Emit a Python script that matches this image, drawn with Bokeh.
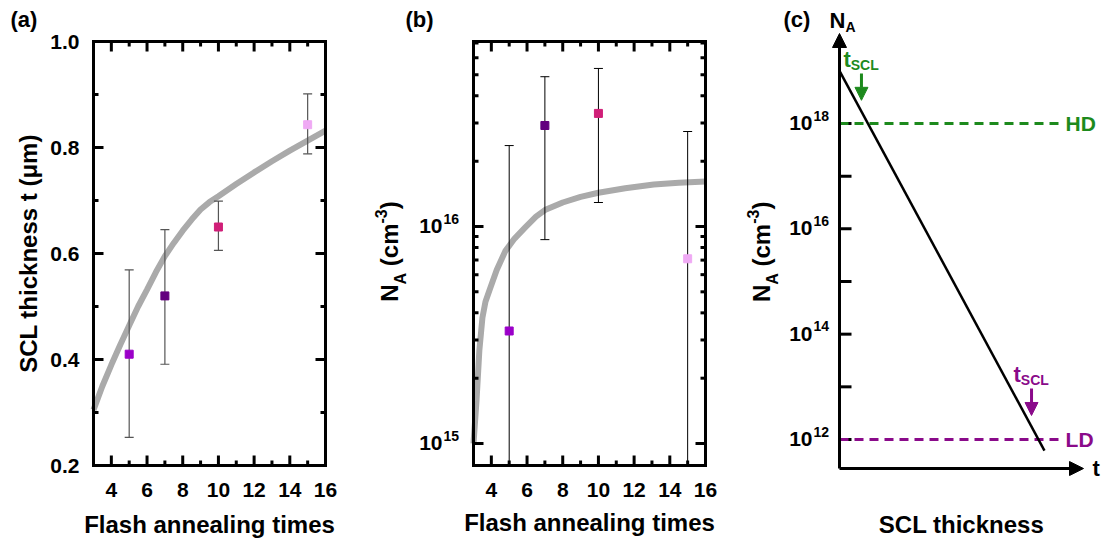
import math
from bokeh.plotting import figure
from bokeh.layouts import row
from bokeh.models import Range1d, Label, Arrow, NormalHead, ColumnDataSource
from bokeh.embed import file_html
from bokeh.resources import INLINE

FONT = "Liberation Sans"

# ---------------- data ----------------
ann_times = [5, 7, 10, 15]
point_colors = ["#9b00c9", "#63007f", "#d01f78", "#efa9f4"]
x_major_ticks = [4, 6, 8, 10, 12, 14, 16]
x_minor_ticks = [3, 5, 7, 9, 11, 13, 15]

# panel (a): SCL thickness (um)
scl_t = [0.41, 0.52, 0.65, 0.843]
scl_lo = [0.253, 0.391, 0.606, 0.788]
scl_hi = [0.569, 0.645, 0.699, 0.901]
fit_a_x = [3, 3.5, 4, 4.5, 5, 5.5, 6, 6.5, 7, 7.5, 8, 8.5, 9, 9.5, 10, 11, 12, 13, 14, 15, 16]
fit_a_y = [0.305, 0.35, 0.39, 0.428, 0.464, 0.50, 0.532, 0.565, 0.595, 0.62, 0.643, 0.664,
           0.683, 0.697, 0.708, 0.731, 0.753, 0.774, 0.794, 0.813, 0.832]
a_y_major = [0.2, 0.4, 0.6, 0.8, 1.0]
a_y_minor = [0.3, 0.5, 0.7, 0.9]

# panel (b): N_A (cm^-3)
B_YMIN, B_YMAX = 7.92e14, 7.12e16
na = [3.3e15, 2.92e16, 3.32e16, 7.1e15]
na_lo = [B_YMIN, 8.7e15, 1.29e16, B_YMIN]   # bars of 5 and 15 run past the bottom of the axis
na_hi = [2.36e16, 4.9e16, 5.35e16, 2.74e16]
fit_b_x = [3.0, 3.17, 3.33, 3.5, 3.67, 3.9, 4.3, 4.78, 5.3, 5.9, 6.5, 7, 8, 9, 10, 11.5, 13.1, 14.5, 16]
fit_b_y = [1.0e15, 1.58e15, 2.7e15, 3.8e15, 4.5e15, 5.1e15, 6.3e15, 7.7e15, 8.8e15, 9.9e15,
           1.11e16, 1.19e16, 1.29e16, 1.37e16, 1.43e16, 1.5e16, 1.56e16, 1.59e16, 1.61e16]
b_tick_exp = [15, 16]
b_y_minor = [2e15, 3e15, 4e15, 5e15, 6e15, 7e15, 8e15, 9e15, 2e16, 3e16, 4e16, 5e16, 6e16, 7e16]

# panel (c): schematic (t in relative units, log10 N_A)
c_decades = [12, 13, 14, 15, 16, 17, 18]
c_labeled = [12, 14, 16, 18]
c_profile_t = [0.0, 0.84]
c_profile_logn = [19.0, 11.79]
hd_logn = 18
ld_logn = 12
c_level_t = [0.0, 0.898]
tscl_hd = [0.09, 18.95, 18.44]     # t, arrow start, arrow tip
tscl_ld = [0.787, 12.97, 12.456]
c_origin_logn = 11.449
c_top_logn = 19.709
c_right_t = 1.0

GREEN = "#1d8a1d"
PURPLE = "#8a0a8a"
H = 544

# ---------------- helpers ----------------
W = {' ': 278, '(': 333, ')': 333, '-': 333, 'A': 722, 'C': 722, 'D': 722, 'H': 722,
     'L': 611, 'N': 722, 'S': 667, 'c': 556, 'm': 889, 't': 333}
CAP_MID = 0.355   # centre of capitals / digits above the baseline, in em


def tw(s, size):
    return sum(W.get(ch, 556) for ch in s) * size / 1000.0


def lab(p, x, y, text, xo, yo, size=21, align="left", baseline="alphabetic", color="black",
        angle=0.0):
    # offsets are given for the baseline; the label is drawn centred on the capitals
    if baseline == "alphabetic":
        if angle == 0:
            yo += CAP_MID * size
        else:
            xo -= CAP_MID * size
    p.add_layout(Label(x=x, y=y, x_offset=xo, y_offset=yo, text=text, text_font=FONT, angle=angle,
                       text_font_style="bold", text_font_size=f"{size}px", text_color=color,
                       text_align=align, text_baseline="middle"))


def rich(p, x, y, parts, x_offset=0, y_offset=0, angle=0.0, align="left", color="black"):
    total = sum(tw(t, s) for t, s, _ in parts)
    cur = {"left": 0.0, "center": -total / 2.0, "right": -total}[align]
    for text, size, shift in parts:
        stripped = text.lstrip(" ")
        cur += tw(text[:len(text) - len(stripped)], size)
        if angle == 0:
            xo, yo = x_offset + cur, y_offset + shift
        else:
            xo, yo = x_offset - shift, y_offset + cur
        lab(p, x, y, stripped, xo, yo, size=size, align="left", color=color, angle=angle)
        cur += tw(stripped, size)


def span(lo, hi, p_lo, p_hi, total):
    """range whose values lo/hi land on pixels p_lo/p_hi of a canvas 'total' px long"""
    k = (hi - lo) / (p_hi - p_lo)
    return lo - p_lo * k, hi + (total - p_hi) * k, k


def bare_fig(width, xr, yr, log=False):
    p = figure(width=width, height=H, x_range=Range1d(*xr), y_range=Range1d(*yr),
               y_axis_type="log" if log else "linear",
               x_axis_location=None, y_axis_location=None, min_border=0,
               output_backend="svg", toolbar_location=None)
    p.grid.visible = False
    p.outline_line_color = None
    p.background_fill_color = "white"
    p.border_fill_color = "white"
    return p


def draw_box(p, xb, yb, x_major, x_minor, y_major, y_minor, kx, yshift):
    x0, x1 = xb
    y0, y1 = yb
    s = {"x0": [], "y0": [], "x1": [], "y1": []}

    def add(a, b, c, d):
        s["x0"].append(a); s["y0"].append(b); s["x1"].append(c); s["y1"].append(d)

    for xs, L in ((x_major, 10), (x_minor, 5)):
        for x in xs:
            add(x, y0, x, yshift(y0, L))
            add(x, y1, x, yshift(y1, -L))
    for ys, L in ((y_major, 10), (y_minor, 5)):
        for y in ys:
            add(x0, y, x0 + L * kx, y)
            add(x1, y, x1 - L * kx, y)
    p.segment(source=ColumnDataSource(s), x0="x0", y0="y0", x1="x1", y1="y1",
              line_color="black", line_width=3)
    p.quad(left=[x0], right=[x1], bottom=[y0], top=[y1], fill_color=None,
           line_color="black", line_width=3, line_join="miter")


def draw_points(p, xs, ys, lo, hi, color, width):
    src = ColumnDataSource(dict(x=xs, y=ys, lo=lo, hi=hi, c=point_colors))
    p.segment(x0="x", y0="lo", x1="x", y1="hi", source=src, line_color=color, line_width=width)
    p.scatter(x="x", y="lo", source=src, marker="dash", size=9, line_color=color, line_width=width)
    p.scatter(x="x", y="hi", source=src, marker="dash", size=9, line_color=color, line_width=width)
    p.scatter(x="x", y="y", source=src, marker="square", size=8, fill_color="c", line_color="c")


XB = (3, 16)

# ---------------- panel (a) ----------------
ax0, ax1, kxa = span(XB[0], XB[1], 93, 325, 370)
ya_lo, ya_hi = a_y_major[0], a_y_major[-1]
ay0, ay1, kya = span(ya_lo, ya_hi, H - 465, H - 41, H)
pa = bare_fig(370, (ax0, ax1), (ay0, ay1))
pa.line(fit_a_x, fit_a_y, line_color="#aaaaaa", line_width=6)
draw_points(pa, ann_times, scl_t, scl_lo, scl_hi, "#555555", 1.2)
draw_box(pa, XB, (ya_lo, ya_hi), x_major_ticks, x_minor_ticks, a_y_major, a_y_minor, kxa,
         lambda y, L: y + L * kya)
for v in a_y_major:
    lab(pa, XB[0], v, f"{v:.1f}", -14, -8, size=21, align="right")
for v in x_major_ticks:
    lab(pa, v, ya_lo, str(v), 0, -32, size=21, align="center")
lab(pa, (XB[0] + XB[1]) / 2, ya_lo, "Flash annealing times", 0, -68, size=24, align="center")
lab(pa, XB[0], (ya_lo + ya_hi) / 2, "SCL thickness t (μm)", -56, 0, size=24, align="center",
    angle=math.pi / 2)
lab(pa, XB[0], ya_hi, "(a)", -83, 14, size=22)

# ---------------- panel (b) ----------------
bx0, bx1, kxb = span(XB[0], XB[1], 103, 335, 370)
lb0, lb1, kdec = span(math.log10(B_YMIN), math.log10(B_YMAX), H - 465, H - 41, H)
pb = bare_fig(370, (bx0, bx1), (10 ** lb0, 10 ** lb1), log=True)
pb.line(fit_b_x, fit_b_y, line_color="#aaaaaa", line_width=6)
draw_points(pb, ann_times, na, na_lo, na_hi, "black", 1)
draw_box(pb, XB, (B_YMIN, B_YMAX), x_major_ticks, x_minor_ticks,
         [10.0 ** e for e in b_tick_exp], b_y_minor, kxb, lambda y, L: y * 10 ** (L * kdec))
for e in b_tick_exp:
    lab(pb, XB[0], 10.0 ** e, "10", -31, -7, size=21, align="right")
    lab(pb, XB[0], 10.0 ** e, str(e), -30, 3, size=14, align="left")
for v in x_major_ticks:
    lab(pb, v, B_YMIN, str(v), 0, -32, size=21, align="center")
lab(pb, (XB[0] + XB[1]) / 2, B_YMIN, "Flash annealing times", 0, -66, size=24, align="center")
rich(pb, XB[0], 1e16, [("N", 24, 0), ("A", 16, -8), (" (cm", 24, 0), ("-3", 16, 12), (")", 24, 0)],
     x_offset=-75, y_offset=-25, angle=math.pi / 2, align="center")
lab(pb, XB[0], B_YMAX, "(b)", -68, 14, size=22)

# ---------------- panel (c) ----------------
cx0, cx1, kxc = span(0.0, c_right_t, 839 - 740, 1083 - 740, 363)
lc0, lc1, _ = span(float(ld_logn), float(hd_logn), H - 439, H - 123, H)
pc = bare_fig(363, (cx0, cx1), (10 ** lc0, 10 ** lc1), log=True)

tick_len = 12 * kxc
pc.segment(x0=[0] * len(c_decades), y0=[10.0 ** d for d in c_decades],
           x1=[tick_len] * len(c_decades), y1=[10.0 ** d for d in c_decades],
           line_color="black", line_width=3)
pc.line(c_level_t, [10.0 ** hd_logn] * 2, line_color=GREEN, line_width=3, line_dash="9 6")
pc.line(c_level_t, [10.0 ** ld_logn] * 2, line_color=PURPLE, line_width=3, line_dash="9 6")
pc.line(c_profile_t, [10.0 ** v for v in c_profile_logn], line_color="black", line_width=2.5)

pc.add_layout(Arrow(x_start=0, y_start=10 ** c_origin_logn, x_end=0, y_end=10 ** c_top_logn,
                    end=NormalHead(size=14, fill_color="black", line_color="black"),
                    line_color="black", line_width=3))
pc.add_layout(Arrow(x_start=0, y_start=10 ** c_origin_logn, x_end=c_right_t, y_end=10 ** c_origin_logn,
                    end=NormalHead(size=14, fill_color="black", line_color="black"),
                    line_color="black", line_width=3))
for (tt, s0, s1), col in ((tscl_hd, GREEN), (tscl_ld, PURPLE)):
    pc.add_layout(Arrow(x_start=tt, y_start=10 ** s0, x_end=tt, y_end=10 ** s1,
                        end=NormalHead(size=13, fill_color=col, line_color=col),
                        line_color=col, line_width=3))
    rich(pc, tt, 10 ** s0, [("t", 22, 0), ("SCL", 14, -3)], x_offset=-18, y_offset=6, color=col)

for d in c_labeled:
    lab(pc, 0, 10.0 ** d, "10", -27, -7, size=21, align="right")
    lab(pc, 0, 10.0 ** d, str(d), -26, 3, size=14, align="left")

lab(pc, c_level_t[1], 10.0 ** hd_logn, "HD", 7, 0, size=21, baseline="middle", color=GREEN)
lab(pc, c_level_t[1], 10.0 ** ld_logn, "LD", 7, 0, size=21, baseline="middle", color=PURPLE)
rich(pc, 0, 10 ** c_top_logn, [("N", 22, 0), ("A", 14, -3)], x_offset=-10, y_offset=5)
lab(pc, 0, 10.0 ** hd_logn, "(c)", -56, 96, size=22)
lab(pc, c_right_t, 10 ** c_origin_logn, "t", 9, 0, size=22, baseline="middle")
rich(pc, 0, 1e16, [("N", 24, 0), ("A", 16, -8), (" (cm", 24, 0), ("-3", 16, 12), (")", 24, 0)],
     x_offset=-69, y_offset=-23, angle=math.pi / 2, align="center")
lab(pc, c_right_t / 2, 10 ** c_origin_logn, "SCL thickness", 0, -65, size=24, align="center")

layout = row(pa, pb, pc)
open("out.html", "w").write(file_html(layout, INLINE))
